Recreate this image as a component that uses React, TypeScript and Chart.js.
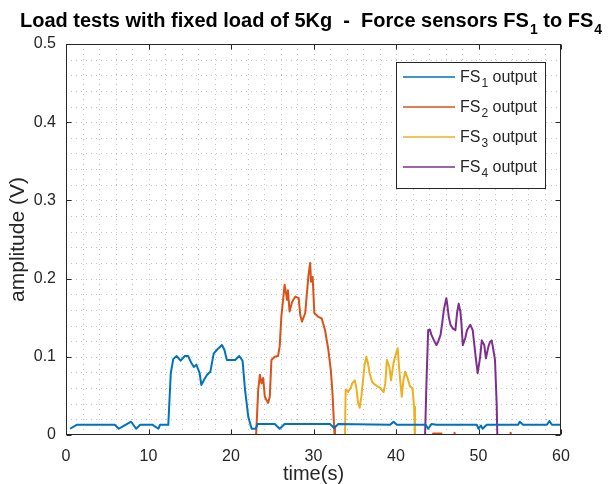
import { useEffect, useRef } from 'react';
import { Chart, registerables } from 'chart.js';

Chart.register(...registerables);

// ---------- data ----------
const FS1_T = [0.5, 1.3, 5.9, 6.4, 7.2, 7.9, 8.5, 9.0, 10.5, 11.2, 11.4, 12.4, 12.7, 13.0, 13.4, 13.9, 14.4, 14.8, 15.2, 15.5, 15.8, 16.2, 16.4, 16.7, 17.1, 17.5, 17.9, 18.3, 18.9, 19.2, 19.5, 20.5, 21.0, 21.4, 21.7, 22.1, 22.5, 23.0, 23.2, 25.3, 25.9, 26.5, 32.0, 32.5, 33.0, 39.3, 39.7, 40.1, 43.6, 43.9, 44.3, 44.9, 49.8, 50.0, 50.3, 50.5, 51.0, 54.8, 55.0, 55.4, 58.3, 58.6, 58.9, 60];
const FS1_V = [0.008, 0.013, 0.013, 0.008, 0.013, 0.017, 0.008, 0.013, 0.013, 0.008, 0.013, 0.013, 0.079, 0.097, 0.101, 0.095, 0.101, 0.101, 0.092, 0.087, 0.090, 0.079, 0.064, 0.070, 0.077, 0.081, 0.104, 0.109, 0.115, 0.109, 0.096, 0.096, 0.101, 0.095, 0.058, 0.023, 0.008, 0.008, 0.014, 0.014, 0.008, 0.014, 0.014, 0.009, 0.014, 0.013, 0.017, 0.013, 0.013, 0.008, 0.014, 0.013, 0.013, 0.008, 0.012, 0.008, 0.013, 0.013, 0.017, 0.013, 0.013, 0.018, 0.013, 0.013];

const FS2_T = [23.0, 23.3, 23.5, 23.7, 23.9, 24.1, 24.5, 24.7, 24.9, 25.3, 25.7, 25.9, 26.1, 26.5, 26.8, 26.9, 27.1, 27.4, 27.8, 28.2, 28.4, 28.6, 29.0, 29.2, 29.4, 29.6, 29.7, 29.9, 30.1, 30.6, 31.0, 31.4, 31.8, 32.1, 32.3, 32.5, 32.6, 33.0, 44.4, 44.5, 45.5, 45.6, 46.0, 47.0, 47.1, 47.2, 47.5, 53.8, 53.9, 54.0];
const FS2_V = [-0.01, 0.058, 0.077, 0.066, 0.073, 0.049, 0.041, 0.049, 0.096, 0.100, 0.101, 0.113, 0.151, 0.192, 0.173, 0.185, 0.158, 0.170, 0.177, 0.175, 0.153, 0.145, 0.156, 0.181, 0.205, 0.220, 0.196, 0.202, 0.156, 0.151, 0.149, 0.134, 0.109, 0.083, 0.054, 0.011, -0.01, null, -0.01, 0.002, 0.002, -0.01, null, -0.01, 0.003, -0.01, null, -0.01, 0.003, -0.01];

const FS3_T = [33.8, 33.9, 34.2, 34.5, 34.7, 35.0, 35.2, 35.4, 35.6, 35.8, 36.0, 36.2, 36.4, 36.6, 36.8, 37.1, 37.5, 38.1, 38.5, 38.7, 38.9, 39.2, 39.4, 39.7, 40.0, 40.2, 40.4, 40.6, 40.7, 40.9, 41.1, 41.4, 41.7, 42.0, 42.2, 42.3];
const FS3_V = [-0.01, 0.058, 0.055, 0.060, 0.066, 0.070, 0.060, 0.041, 0.035, 0.049, 0.070, 0.090, 0.100, 0.092, 0.079, 0.068, 0.064, 0.060, 0.055, 0.066, 0.096, 0.087, 0.070, 0.092, 0.104, 0.111, 0.083, 0.060, 0.049, 0.070, 0.081, 0.073, 0.062, 0.060, 0.036, -0.01];

const FS4_T = [43.5, 43.7, 43.9, 44.1, 44.3, 44.6, 44.9, 45.1, 45.4, 45.6, 45.8, 46.1, 46.2, 46.4, 46.6, 46.9, 47.2, 47.4, 47.6, 47.8, 47.9, 48.1, 48.4, 48.6, 49.0, 49.3, 49.5, 49.7, 49.9, 50.2, 50.4, 50.7, 50.9, 51.2, 51.4, 51.6, 51.8, 52.0, 52.2, 52.3];
const FS4_V = [-0.01, 0.070, 0.134, 0.135, 0.128, 0.121, 0.115, 0.119, 0.128, 0.143, 0.160, 0.175, 0.168, 0.151, 0.141, 0.136, 0.134, 0.156, 0.168, 0.158, 0.147, 0.115, 0.124, 0.134, 0.141, 0.134, 0.115, 0.096, 0.079, 0.100, 0.121, 0.115, 0.098, 0.113, 0.119, 0.121, 0.109, 0.096, 0.041, -0.01];

const SERIES_SUBS = ['1', '2', '3', '4'];
const SERIES_COLORS = ['#0072BD', '#D95319', '#EDB120', '#7E2F8E'];
const LEGEND_SUFFIX = ' output';

const TITLE_PARTS: [string, boolean][] = [
  ['Load tests with fixed load of 5Kg  -  Force sensors FS', false],
  ['1', true],
  [' to FS', false],
  ['4', true],
];
const X_LABEL = 'time(s)';
const Y_LABEL = 'amplitude (V)';
const X_MIN = 0, X_MAX = 60, X_STEP = 10, X_MINOR = 2;
const Y_MIN = 0, Y_MAX = 0.5, Y_STEP = 0.1, Y_MINOR = 0.02;

const FONT = '"Liberation Sans", Arial, sans-serif';
const AXIS_COLOR = '#262626';

function zip(ts: number[], vs: (number | null)[]) {
  return ts.map((t, i) => ({ x: t, y: vs[i] }));
}

function drawRich(ctx: CanvasRenderingContext2D, parts: [string, boolean][], x: number, baseline: number, size: number, weight: string, align: 'left' | 'center', color: string) {
  const mainFont = `${weight} ${size}px ${FONT}`;
  const subFont = `${weight} ${Math.round(size * 0.72)}px ${FONT}`;
  let total = 0;
  const widths = parts.map(([t, sub]) => {
    ctx.font = sub ? subFont : mainFont;
    const w = ctx.measureText(t).width + (sub ? 1 : 0);
    total += w;
    return w;
  });
  let cx = align === 'center' ? x - total / 2 : x;
  ctx.fillStyle = color;
  ctx.textAlign = 'left';
  ctx.textBaseline = 'alphabetic';
  parts.forEach(([t, sub], i) => {
    ctx.font = sub ? subFont : mainFont;
    ctx.fillText(t, cx + (sub ? 1 : 0), baseline + (sub ? size * 0.33 : 0));
    cx += widths[i];
  });
}

const decorPlugin = {
  id: 'matlabDecor',
  beforeDatasetsDraw(chart: any) {
    const { ctx, chartArea: a, scales } = chart;
    const xs = scales.x, ys = scales.y;
    ctx.save();
    ctx.strokeStyle = '#c4c4c4';
    ctx.lineWidth = 1;
    ctx.setLineDash([1, 4]);
    for (let v = X_MIN + X_MINOR; v < X_MAX - 1e-9; v += X_MINOR) {
      const px = Math.round(xs.getPixelForValue(v)) + 0.5;
      ctx.beginPath();
      ctx.moveTo(px, a.top);
      ctx.lineTo(px, a.bottom);
      ctx.stroke();
    }
    for (let v = Y_MIN + Y_MINOR; v < Y_MAX - 1e-9; v += Y_MINOR) {
      const py = Math.round(ys.getPixelForValue(v)) + 0.5;
      ctx.beginPath();
      ctx.moveTo(a.left, py);
      ctx.lineTo(a.right, py);
      ctx.stroke();
    }
    ctx.restore();
  },
  afterDatasetsDraw(chart: any) {
    const { ctx, chartArea: a, scales } = chart;
    const xs = scales.x, ys = scales.y;
    ctx.save();
    ctx.strokeStyle = AXIS_COLOR;
    ctx.lineWidth = 1;
    const L = Math.round(a.left) + 0.5, R = Math.round(a.right) - 0.5;
    const T = Math.round(a.top) + 0.5, B = Math.round(a.bottom) - 0.5;
    ctx.strokeRect(L, T, R - L, B - T);
    const tl = 5;
    ctx.beginPath();
    for (let v = X_MIN; v <= X_MAX + 1e-9; v += X_STEP) {
      const px = Math.round(xs.getPixelForValue(v)) + 0.5;
      ctx.moveTo(px, B); ctx.lineTo(px, B - tl);
      ctx.moveTo(px, T); ctx.lineTo(px, T + tl);
    }
    for (let v = Y_MIN; v <= Y_MAX + 1e-9; v += Y_STEP) {
      const py = Math.round(ys.getPixelForValue(v)) + 0.5;
      ctx.moveTo(L, py); ctx.lineTo(L + tl, py);
      ctx.moveTo(R, py); ctx.lineTo(R - tl, py);
    }
    ctx.stroke();
    ctx.restore();
  },
  afterDraw(chart: any) {
    const { ctx } = chart;
    ctx.save();
    // title
    drawRich(ctx, TITLE_PARTS, 311, 27, 20, 'bold', 'center', '#000');
    // legend
    const bx = 396, by = 62, bw = 149, bh = 126;
    ctx.fillStyle = '#fff';
    ctx.fillRect(bx, by, bw, bh);
    ctx.strokeStyle = AXIS_COLOR;
    ctx.lineWidth = 1;
    ctx.strokeRect(bx + 0.5, by + 0.5, bw, bh);
    SERIES_SUBS.forEach((s, i) => {
      const cy = 77 + i * 30;
      ctx.strokeStyle = SERIES_COLORS[i];
      ctx.lineWidth = 1.5;
      ctx.beginPath();
      ctx.moveTo(403, cy);
      ctx.lineTo(455, cy);
      ctx.stroke();
      drawRich(ctx, [['FS', false], [s, true], [LEGEND_SUFFIX, false]], 460, cy + 5, 16, 'normal', 'left', AXIS_COLOR);
    });
    ctx.restore();
  },
};

export default function App() {
  const ref = useRef<HTMLCanvasElement | null>(null);
  useEffect(() => {
    if (!ref.current) return;
    const series = [zip(FS1_T, FS1_V), zip(FS2_T, FS2_V), zip(FS3_T, FS3_V), zip(FS4_T, FS4_V)];
    const chart = new Chart(ref.current, {
      type: 'line',
      data: {
        datasets: series.map((d, i) => ({
          label: 'FS' + SERIES_SUBS[i] + LEGEND_SUFFIX,
          data: d,
          borderColor: SERIES_COLORS[i],
          backgroundColor: SERIES_COLORS[i],
          borderWidth: 2,
          pointRadius: 0,
          tension: 0,
          spanGaps: false,
          borderJoinStyle: 'round' as const,
        })),
      },
      options: {
        responsive: false,
        animation: false,
        parsing: true,
        layout: { padding: { left: 0, right: 51, top: 44, bottom: 0 } },
        plugins: {
          legend: { display: false },
          title: { display: false },
          tooltip: { enabled: false },
        },
        scales: {
          x: {
            type: 'linear',
            min: X_MIN,
            max: X_MAX,
            grid: { display: false, drawTicks: false, tickLength: 0 },
            border: { display: false },
            ticks: {
              stepSize: X_STEP,
              padding: 12,
              maxRotation: 0,
              color: AXIS_COLOR,
              font: { family: FONT, size: 16 },
            },
            title: {
              display: true,
              text: X_LABEL,
              color: AXIS_COLOR,
              font: { family: FONT, size: 20 },
              padding: { top: 0, bottom: -2 },
            },
            afterFit(scale: any) { scale.height = 49; },
          },
          y: {
            type: 'linear',
            min: Y_MIN,
            max: Y_MAX,
            grid: { display: false, drawTicks: false, tickLength: 0 },
            border: { display: false },
            ticks: {
              stepSize: Y_STEP,
              padding: 10,
              color: AXIS_COLOR,
              font: { family: FONT, size: 16 },
              callback: (v: any) => String(+Number(v).toFixed(1)),
            },
            title: {
              display: true,
              text: Y_LABEL,
              color: AXIS_COLOR,
              font: { family: FONT, size: 21 },
              padding: { top: 6, bottom: 0 },
            },
            afterFit(scale: any) { scale.width = 66; },
          },
        },
      },
      plugins: [decorPlugin],
    });
    return () => chart.destroy();
  }, []);
  return (
    <div style={{ position: 'absolute', left: 0, top: 0, width: 612, height: 484, background: '#fff' }}>
      <canvas ref={ref} width={612} height={484} style={{ display: 'block' }} />
    </div>
  );
}
